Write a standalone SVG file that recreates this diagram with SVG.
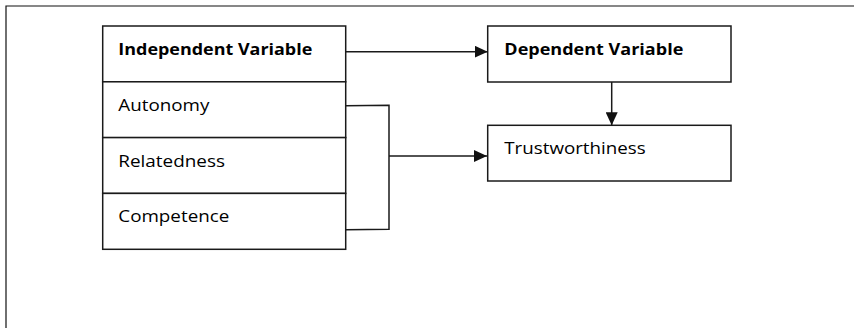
<svg xmlns="http://www.w3.org/2000/svg" width="854" height="328" viewBox="0 0 854 328">
  <defs>
    <marker id="arrow" markerUnits="userSpaceOnUse" markerWidth="13" markerHeight="12" refX="13" refY="6" orient="auto">
      <path d="M0,0 L13,6 L0,12 z" fill="#111"/>
    </marker>
    <style>
      .box { fill: #fff; stroke: #1a1a1a; stroke-width: 1.5; }
      .conn { fill: none; stroke: #1a1a1a; stroke-width: 1.5; }
      .frame { fill: none; stroke: #111; stroke-width: 1.2; }
      .lbl { font-family: "Open Sans", "Liberation Sans", sans-serif; font-size: 16.5px; fill: #000; }
      .bold { font-weight: bold; }
    </style>
  </defs>
  <rect width="854" height="328" fill="#fff"/>
  <g id="frame">
    <path class="frame" d="M854,6 L6,6 L6,328"/>
  </g>
  <g id="independent-variable">
    <rect class="box" x="102.7" y="26" width="243" height="55.8"/>
    <text class="lbl bold" x="118.3" y="54.8" textLength="194" lengthAdjust="spacingAndGlyphs">Independent Variable</text>
  </g>
  <g id="autonomy">
    <rect class="box" x="102.7" y="81.8" width="243" height="55.8"/>
    <text class="lbl" x="118.3" y="110.8" textLength="91" lengthAdjust="spacingAndGlyphs">Autonomy</text>
  </g>
  <g id="relatedness">
    <rect class="box" x="102.7" y="137.6" width="243" height="55.8"/>
    <text class="lbl" x="118.3" y="166.6" textLength="106.7" lengthAdjust="spacingAndGlyphs">Relatedness</text>
  </g>
  <g id="competence">
    <rect class="box" x="102.7" y="193.4" width="243" height="55.9"/>
    <text class="lbl" x="118.3" y="222.3" textLength="111" lengthAdjust="spacingAndGlyphs">Competence</text>
  </g>
  <g id="dependent-variable">
    <rect class="box" x="487.7" y="26" width="243.3" height="56"/>
    <text class="lbl bold" x="504.3" y="55.3" textLength="179" lengthAdjust="spacingAndGlyphs">Dependent Variable</text>
  </g>
  <g id="trustworthiness">
    <rect class="box" x="487.7" y="125.3" width="243.3" height="55.7"/>
    <text class="lbl" x="504.3" y="153.8" textLength="141.4" lengthAdjust="spacingAndGlyphs">Trustworthiness</text>
  </g>
  <g id="connectors">
    <line class="conn" x1="345.7" y1="51.7" x2="487.7" y2="51.7" marker-end="url(#arrow)"/>
    <polyline class="conn" points="345.7,105.7 389,105.3 389,229.3 345.7,229.7"/>
    <line class="conn" x1="389" y1="156" x2="487" y2="156" marker-end="url(#arrow)"/>
    <line class="conn" x1="611.7" y1="82" x2="611.7" y2="125.3" marker-end="url(#arrow)"/>
  </g>
</svg>
